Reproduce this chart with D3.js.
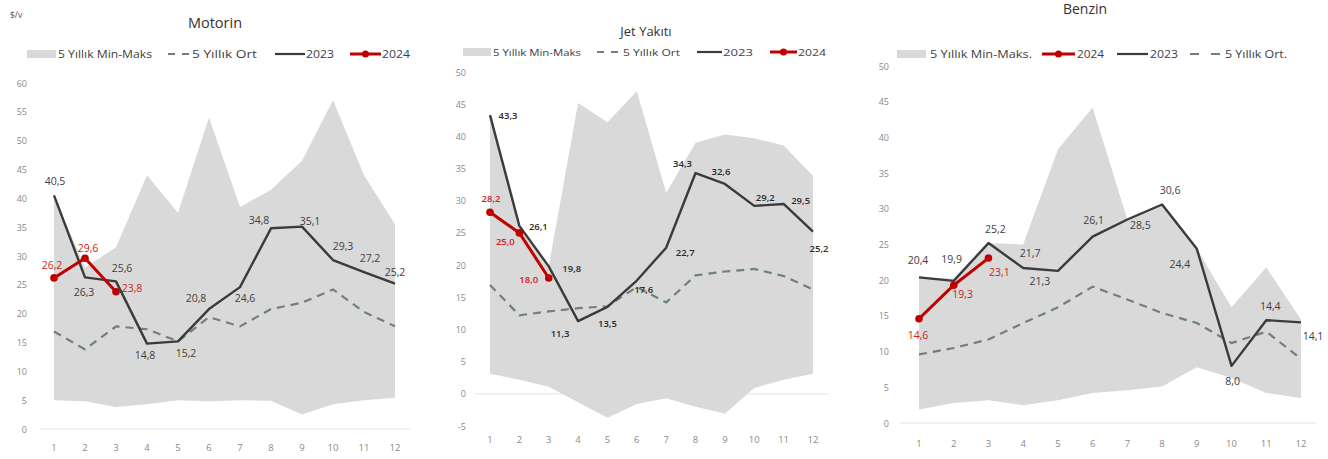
<!DOCTYPE html>
<html><head><meta charset="utf-8">
<script src="https://cdn.jsdelivr.net/npm/d3@7"></script>
<style>body{margin:0;background:#fff} svg{display:block} text{font-family:"Open Sans","Liberation Sans",sans-serif}</style>
</head><body>
<svg id="c" width="1328" height="459"></svg>
<script>
// ---------- DATA ----------
const months = [1,2,3,4,5,6,7,8,9,10,11,12];

const motorinMin  = [5.0,4.8,3.8,4.3,5.0,4.8,5.0,4.9,2.5,4.3,5.0,5.4];
const motorinMax  = [40.5,28.0,31.5,44.0,37.5,54.0,38.5,41.5,46.5,57.0,44.0,35.5];
const motorinAvg  = [16.9,13.8,17.8,17.3,15.2,19.4,17.8,20.8,21.9,24.2,20.3,17.8];
const motorin2023 = [40.5,26.3,25.6,14.8,15.2,20.8,24.6,34.8,35.1,29.3,27.2,25.2];
const motorin2024 = [26.2,29.6,23.8];

const jetMin  = [3.1,2.2,1.1,-1.3,-3.7,-1.6,-0.7,-2.0,-3.1,0.9,2.2,3.1];
const jetMax  = [43.3,26.1,19.8,45.2,42.2,47.0,31.2,39.0,40.3,39.7,38.6,33.9];
const jetAvg  = [16.9,12.2,12.8,13.3,13.6,16.6,14.2,18.4,19.0,19.4,18.3,16.2];
const jet2023 = [43.3,26.1,19.8,11.3,13.5,17.6,22.7,34.3,32.6,29.2,29.5,25.2];
const jet2024 = [28.2,25.0,18.0];

const benzinMin  = [1.9,2.8,3.2,2.5,3.2,4.2,4.6,5.1,7.8,6.3,4.2,3.5];
const benzinMax  = [20.4,20.2,25.2,25.0,38.3,44.2,28.5,30.6,24.4,16.2,21.8,14.5];
const benzinAvg  = [9.6,10.5,11.7,14.0,16.2,19.1,17.3,15.4,14.0,11.2,12.8,9.0];
const benzin2023 = [20.4,19.9,25.2,21.7,21.3,26.1,28.5,30.6,24.4,8.0,14.4,14.1];
const benzin2024 = [14.6,19.3,23.1];

const titles = ["Motorin","Jet Yakıtı","Benzin"];
const unitLabel = "$/v";
const legendBand = ["5 Yıllık Min-Maks","5 Yıllık Min-Maks","5 Yıllık Min-Maks."];
const legendAvg  = ["5 Yıllık Ort","5 Yıllık Ort","5 Yıllık Ort."];
const legend2023 = "2023";
const legend2024 = "2024";

// ---------- LAYOUT (label offsets, positions) ----------
const motorinOff23 = [[1,-14],[-1,15],[6,-13],[-2,11],[8,12],[-13,-11],[5,11],[-12,-8],[8,-6],[10,-14],[6,-14],[0,-12]];
const motorinOff24 = [[-2,-13],[3,-10],[16,-4]];
const jetOff23 = [[18,0],[19,1],[23,2],[-18,12],[0,17],[7,9],[19,5],[-13,-10],[-4,-12],[11,-8],[17,-3],[6,17]];
const jetOff24 = [[1,-14],[-14,9],[-20,2]];
const benzinOff23 = [[-1,-17],[-2,-22],[7,-14],[7,-15],[-18,10],[1,-17],[13,5],[8,-15],[-17,15],[1,15],[4,-14],[12,14]];
const benzinOff24 = [[-1,16],[9,9],[11,14]];

const fmt = v => d3.format(".1f")(v).replace(".", ",");
const svg = d3.select("#c");

const C_BAND = "#d9d9d9", C_23 = "#3b3b3b", C_24 = "#c00000", C_AVG = "#6e8279", C_TXT = "#404040";

function drawPanel(p) {
  const g = svg.append("g");
  const x = d3.scaleLinear().domain([1,12]).range(p.xr);
  const y = d3.scaleLinear().domain(p.yd).range(p.yr);

  g.selectAll("text.yt").data(d3.range(p.yd[0], p.yd[1]+0.01, 5)).join("text")
    .attr("class","yt").attr("x", p.tickX).attr("y", d => y(d))
    .attr("text-anchor","end").attr("dominant-baseline","central")
    .attr("font-size", 9).attr("fill","#8a8a8a").text(d => d);

  g.append("line").attr("x1",p.axX[0]).attr("x2",p.axX[1]).attr("y1",y(0)).attr("y2",y(0))
    .attr("stroke","#e3e3e3").attr("stroke-width",1);

  const area = d3.area().x((d,i)=>x(months[i])).y0((d,i)=>y(p.min[i])).y1((d,i)=>y(p.max[i]));
  g.append("path").datum(months).attr("d", area).attr("fill", C_BAND);

  g.selectAll("text.xt").data(months).join("text").attr("class","xt")
    .attr("x", d => x(d)).attr("y", p.monthY).attr("text-anchor","middle")
    .attr("dominant-baseline","central").attr("font-size",9.5).attr("fill","#8a8a8a").text(d=>d);

  const line = d3.line().x((d,i)=>x(months[i])).y(d=>y(d));
  g.append("path").datum(p.avg).attr("d", line).attr("fill","none").attr("stroke",C_AVG)
    .attr("stroke-width",2.2).attr("stroke-dasharray","8,6");
  g.append("path").datum(p.y23).attr("d", line).attr("fill","none").attr("stroke",C_23)
    .attr("stroke-width",2.4).attr("stroke-linejoin","round");
  g.append("path").datum(p.y24).attr("d", line).attr("fill","none").attr("stroke",C_24)
    .attr("stroke-width",3).attr("stroke-linejoin","round");
  g.selectAll("circle.p24").data(p.y24).join("circle").attr("class","p24")
    .attr("cx",(d,i)=>x(months[i])).attr("cy",d=>y(d)).attr("r",3.8).attr("fill",C_24);

  g.selectAll("text.l23").data(p.y23).join("text").attr("class","l23")
    .attr("x",(d,i)=>x(months[i])+p.off23[i][0]).attr("y",(d,i)=>y(d)+p.off23[i][1])
    .attr("text-anchor","middle").attr("dominant-baseline","central")
    .attr("font-size",p.lblSize).attr("font-weight",p.lblWeight).attr("fill",p.lblColor).text(fmt);
  g.selectAll("text.l24").data(p.y24).join("text").attr("class","l24")
    .attr("x",(d,i)=>x(months[i])+p.off24[i][0]).attr("y",(d,i)=>y(d)+p.off24[i][1])
    .attr("text-anchor","middle").attr("dominant-baseline","central")
    .attr("font-size",p.lblSize).attr("font-weight",p.lblWeight).attr("fill","#d02020").text(fmt);

  g.append("text").attr("x",p.title[0]).attr("y",p.title[1]).attr("text-anchor","middle")
    .attr("dominant-baseline","central").attr("font-size",p.title[2]).attr("fill","#333").text(p.titleText);

  const ly = p.legY;
  p.legend.forEach(it => {
    if (it.type === "band") {
      g.append("rect").attr("x",it.x0).attr("y",ly-4).attr("width",it.x1-it.x0).attr("height",8).attr("fill",C_BAND);
    } else if (it.type === "avg") {
      g.append("line").attr("x1",it.x0).attr("x2",it.x1).attr("y1",ly).attr("y2",ly)
        .attr("stroke",C_AVG).attr("stroke-width",2).attr("stroke-dasharray",it.dash || "7,7");
    } else if (it.type === "y23") {
      g.append("line").attr("x1",it.x0).attr("x2",it.x1).attr("y1",ly).attr("y2",ly)
        .attr("stroke",C_23).attr("stroke-width",2.2);
    } else {
      g.append("line").attr("x1",it.x0).attr("x2",it.x1).attr("y1",ly).attr("y2",ly)
        .attr("stroke",C_24).attr("stroke-width",3);
      g.append("circle").attr("cx",(it.x0+it.x1)/2).attr("cy",ly).attr("r",3.5).attr("fill",C_24);
    }
    g.append("text").attr("x",it.tx).attr("y",ly).attr("dominant-baseline","central")
      .attr("font-size",p.legSize).attr("fill",C_TXT).attr("textLength",it.tw).attr("lengthAdjust","spacingAndGlyphs").text(it.label);
  });
}

drawPanel({
  xr:[54,395], yd:[0,60], yr:[429,83], tickX:27, axX:[40,410], monthY:447,
  min:motorinMin, max:motorinMax, avg:motorinAvg, y23:motorin2023, y24:motorin2024,
  off23:motorinOff23, off24:motorinOff24, lblSize:10.5, lblWeight:400, lblColor:C_TXT,
  title:[215,22,14.5], titleText:titles[0], legY:54, legSize:10,
  legend:[
    {type:"band",x0:27,x1:56,tx:58,tw:94,label:legendBand[0]},
    {type:"avg",x0:168,x1:191,tx:192,tw:65,label:legendAvg[0]},
    {type:"y23",x0:275,x1:305,tx:306,tw:28,label:legend2023},
    {type:"y24",x0:350,x1:381,tx:382,tw:28,label:legend2024}
  ]
});
drawPanel({
  xr:[490,813], yd:[-5,50], yr:[426,72], tickX:466, axX:[475,828], monthY:439,
  min:jetMin, max:jetMax, avg:jetAvg, y23:jet2023, y24:jet2024,
  off23:jetOff23, off24:jetOff24, lblSize:9.5, lblWeight:600, lblColor:"#2b2b2b",
  title:[646,31,13], titleText:titles[1], legY:52, legSize:9,
  legend:[
    {type:"band",x0:463,x1:491,tx:493,tw:88,label:legendBand[1]},
    {type:"avg",x0:597,x1:621,tx:623,tw:57,label:legendAvg[1]},
    {type:"y23",x0:697,x1:722,tx:723,tw:30,label:legend2023},
    {type:"y24",x0:770,x1:797,tx:798,tw:28,label:legend2024}
  ]
});
drawPanel({
  xr:[919,1301], yd:[0,50], yr:[423,66], tickX:889, axX:[900,1316], monthY:443,
  min:benzinMin, max:benzinMax, avg:benzinAvg, y23:benzin2023, y24:benzin2024,
  off23:benzinOff23, off24:benzinOff24, lblSize:10.5, lblWeight:400, lblColor:C_TXT,
  title:[1085,8,14], titleText:titles[2], legY:54, legSize:10,
  legend:[
    {type:"band",x0:897,x1:926,tx:930,tw:102,label:legendBand[2]},
    {type:"y24",x0:1042,x1:1075,tx:1077,tw:27,label:legend2024},
    {type:"y23",x0:1117,x1:1148,tx:1150,tw:28,label:legend2023},
    {type:"avg",x0:1190,x1:1220,tx:1225,tw:62,label:legendAvg[2],dash:"9,12"}
  ]
});

svg.append("text").attr("x",10).attr("y",14).attr("dominant-baseline","central")
  .attr("font-size",8.5).attr("fill","#555").text(unitLabel);
</script>
</body></html>
